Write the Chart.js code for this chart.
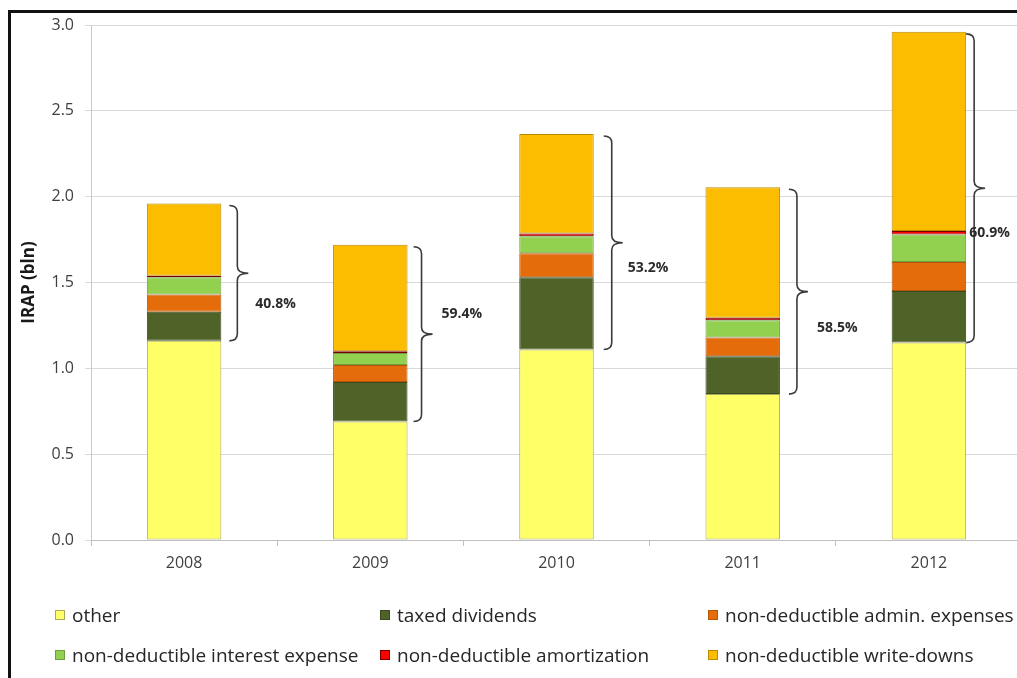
<!DOCTYPE html>
<html>
<head>
<meta charset="utf-8">
<script src="https://cdn.jsdelivr.net/npm/chart.js@4/dist/chart.umd.min.js"></script>
<style>
  html, body { margin: 0; padding: 0; background: #fff; overflow: hidden; width: 1017px; height: 678px; }
  #frame { position: absolute; left: 8px; top: 10px; width: 1200px; height: 800px; border-left: 3px solid #111; border-top: 3px solid #111; box-sizing: border-box; }
  #wrap { position: absolute; left: 0; top: 0; width: 1045px; height: 580px; }
  #legend { position: absolute; left: 0; top: 0; width: 1017px; height: 678px; pointer-events: none;
            font-family: "Open Sans", sans-serif; font-size: 19px; color: #262626; }
  .li { position: absolute; white-space: nowrap; display: flex; align-items: center; }
  .sw { width: 10px; height: 10px; box-sizing: border-box; border: 1px solid #555; margin-right: 7px; }
</style>
</head>
<body>
<div id="frame"></div>
<div id="wrap"><canvas id="c"></canvas></div>
<div id="legend"></div>
<script>
// ---- data ----
const years = ['2008', '2009', '2010', '2011', '2012'];
const other          = [1.16, 0.69, 1.11, 0.85, 1.15];
const taxedDividends = [0.17, 0.23, 0.42, 0.22, 0.30];
const adminExpenses  = [0.10, 0.10, 0.14, 0.11, 0.17];
const interestExp    = [0.10, 0.07, 0.10, 0.10, 0.16];
const amortization   = [0.01, 0.01, 0.015, 0.015, 0.02];
const writeDowns     = [0.42, 0.62, 0.58, 0.76, 1.16];
const pctLabels = ['40.8%', '59.4%', '53.2%', '58.5%', '60.9%'];
const yTicks = [0, 0.5, 1.0, 1.5, 2.0, 2.5, 3.0];

const seriesNames = ['other', 'taxed dividends', 'non-deductible admin. expenses',
  'non-deductible interest expense', 'non-deductible amortization', 'non-deductible write-downs'];
const seriesData = [other, taxedDividends, adminExpenses, interestExp, amortization, writeDowns];
const fills   = ['#ffff66', '#4f6228', '#e46c0a', '#92d050', '#ff0000', '#fcbd00'];
const borders = ['#a8a860', '#3a4a1c', '#b4560a', '#6e9e3e', '#7a0000', '#b98a00'];

const bracketPlugin = {
  id: 'brackets',
  afterDatasetsDraw(chart, args, opts) {
    const ctx = chart.ctx;
    const n = chart.data.datasets.length;
    years.forEach((y, i) => {
      const base = chart.getDatasetMeta(0).data[i];
      const top = chart.getDatasetMeta(n - 1).data[i];
      const right = base.x + base.width / 2;
      const dx = opts.dx[i];
      const x0 = right + 8 + dx, x1 = right + 16 + dx, x2 = right + 27 + dx;
      const yT = top.y + 2, yB = base.y;
      const mid = (yT + yB) / 2;
      const r = 7;
      ctx.save();
      ctx.strokeStyle = '#3a3a3a';
      ctx.lineWidth = 1.6;
      ctx.beginPath();
      ctx.moveTo(x0, yT);
      ctx.quadraticCurveTo(x1, yT, x1, yT + r);
      ctx.lineTo(x1, mid - r);
      ctx.quadraticCurveTo(x1, mid, x2, mid);
      ctx.quadraticCurveTo(x1, mid, x1, mid + r);
      ctx.lineTo(x1, yB - r);
      ctx.quadraticCurveTo(x1, yB, x0, yB);
      ctx.stroke();
      ctx.fillStyle = '#2b2b2b';
      ctx.font = 'bold 14px "Open Sans", sans-serif';
      ctx.textAlign = 'left';
      ctx.textBaseline = 'middle';
      ctx.fillText(pctLabels[i], right + opts.lx[i], mid + opts.ly[i]);
      ctx.restore();
    });
  }
};

const chart = new Chart(document.getElementById('c'), {
  type: 'bar',
  data: {
    labels: years,
    datasets: seriesData.map((d, k) => ({
      label: seriesNames[k],
      data: d,
      backgroundColor: fills[k],
      borderColor: borders[k],
      borderWidth: 1,
      borderSkipped: false,
      categoryPercentage: 0.4,
      barPercentage: 1.0
    }))
  },
  options: {
    responsive: true,
    maintainAspectRatio: false,
    animation: false,
    layout: { padding: { left: 0, right: 23, top: 25, bottom: 0 } },
    plugins: {
      legend: { display: false },
      tooltip: { enabled: false },
      brackets: { dx: [0, -2, 2, 1, -8], lx: [34, 34, 34, 37, 3], ly: [31, -20, 25, 36, 45] }
    },
    scales: {
      x: {
        stacked: true,
        offset: true,
        grid: { offset: true, drawOnChartArea: false, tickLength: 6, color: '#bfbfbf' },
        border: { display: true, color: '#bfbfbf' },
        ticks: { color: '#404040', font: { family: '"Open Sans", sans-serif', size: 16 }, padding: 8 },
        afterFit(s) { s.height = 40; }
      },
      y: {
        stacked: true,
        min: 0, max: 3,
        afterBuildTicks(s) { s.ticks = yTicks.map(v => ({ value: v })); },
        grid: { color: '#d9d9d9', tickLength: 6 },
        border: { display: true, color: '#c8c8c8' },
        ticks: { color: '#404040', font: { family: '"Open Sans", sans-serif', size: 16 }, padding: 11,
                 callback: v => Number(v).toFixed(1) },
        title: { display: true, text: 'IRAP (bln)', color: '#1a1a1a',
                 font: { family: '"Open Sans", sans-serif', size: 17, weight: 'bold' }, padding: { top: 19, bottom: 6 } },
        afterFit(s) { s.width = 91; }
      }
    }
  },
  plugins: [bracketPlugin]
});

// HTML legend built from the datasets
const legendPos = [[55, 615], [380, 615], [708, 615], [55, 655], [380, 655], [708, 655]];
const leg = document.getElementById('legend');
chart.data.datasets.forEach((ds, k) => {
  const d = document.createElement('div');
  d.className = 'li';
  d.style.left = legendPos[k][0] + 'px';
  d.style.top = (legendPos[k][1] - 13) + 'px';
  d.style.height = '26px';
  const sw = document.createElement('span');
  sw.className = 'sw';
  sw.style.background = ds.backgroundColor;
  sw.style.borderColor = ds.borderColor;
  const t = document.createElement('span');
  t.textContent = ds.label;
  d.appendChild(sw); d.appendChild(t);
  leg.appendChild(d);
});
</script>
</body>
</html>
